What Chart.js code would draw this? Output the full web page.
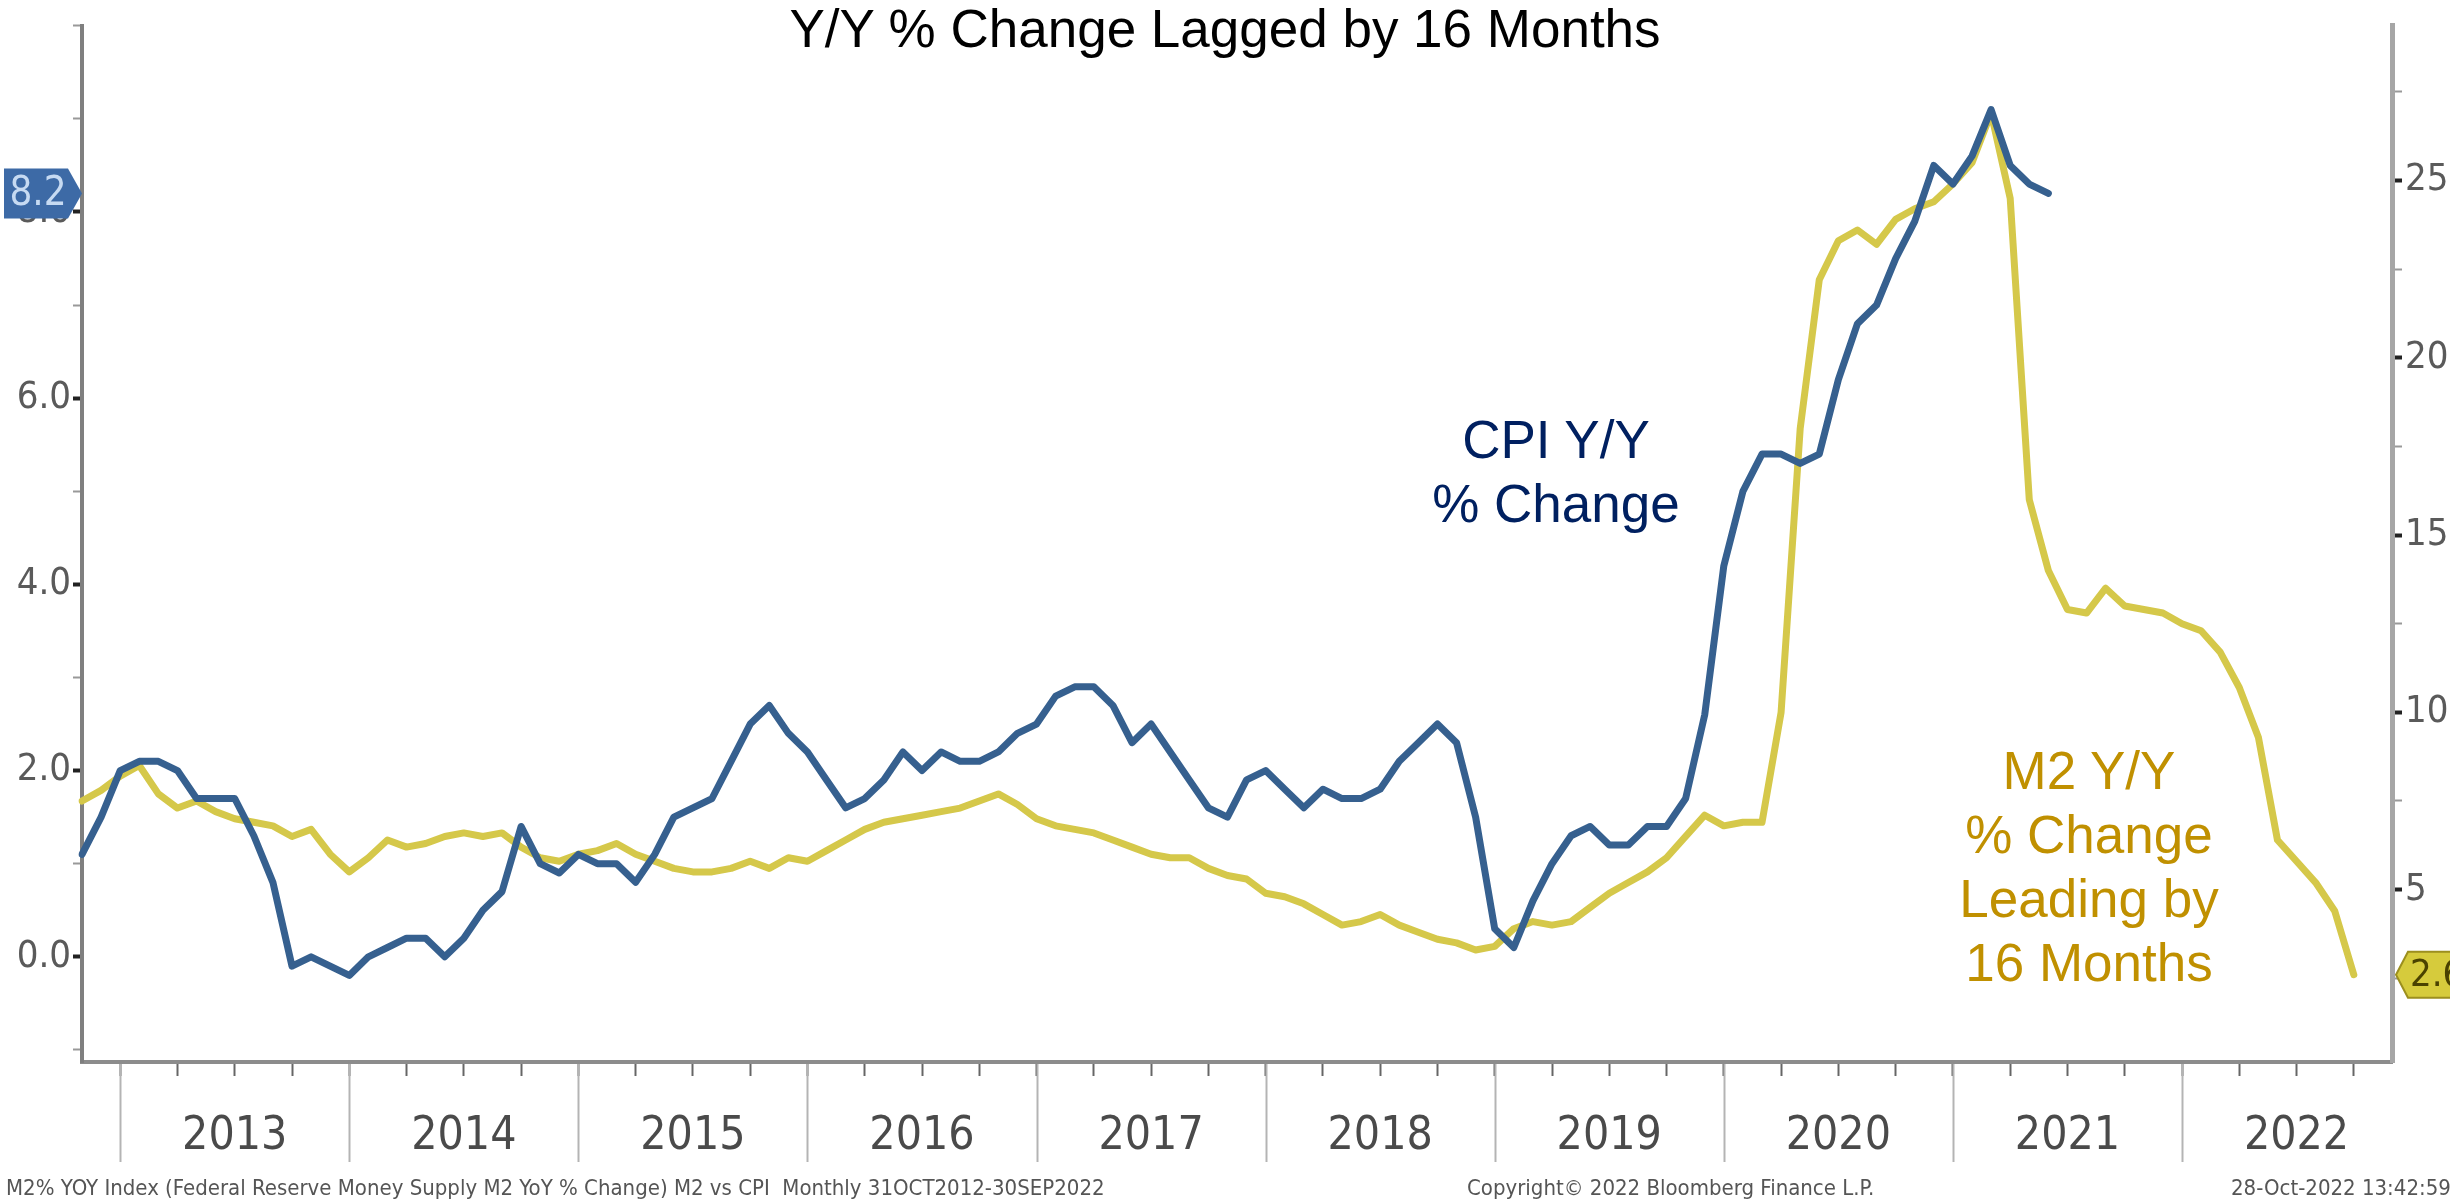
<!DOCTYPE html>
<html>
<head>
<meta charset="utf-8">
<title>M2 vs CPI</title>
<script src="https://cdn.jsdelivr.net/npm/chart.js@4.4.0/dist/chart.umd.min.js"></script>
<style>
  html, body { margin: 0; padding: 0; background: #fff; }
  #wrap { position: relative; width: 2450px; height: 1202px; overflow: hidden; background: #fff; }
  #chart { position: absolute; left: 0; top: 0; }
  .note { position: absolute; font-family: "Liberation Sans", Arial, sans-serif; font-size: 53px; line-height: 64px; text-align: center; white-space: nowrap; }
  .foot { position: absolute; top: 1175px; font-family: "Liberation Sans Narrow", "DejaVu Sans Condensed", sans-serif; font-size: 22px; line-height: 26px; color: #555; white-space: nowrap; }
</style>
</head>
<body>
<div id="wrap">
  <canvas id="chart" width="2450" height="1202"></canvas>
  <div class="note" style="left:0; width:2450px; top:-3px; color:#000;">Y/Y % Change Lagged by 16 Months</div>
  <div class="note" style="left:1356px; width:400px; top:408px; color:#002060;">CPI Y/Y<br>% Change</div>
  <div class="note" style="left:1889px; width:400px; top:739px; color:#c09000;">M2 Y/Y<br>% Change<br>Leading by<br>16 Months</div>
  <div class="foot" style="left:6px;">M2% YOY Index (Federal Reserve Money Supply M2 YoY % Change) M2 vs CPI&nbsp; Monthly 31OCT2012-30SEP2022</div>
  <div class="foot" style="left:1467px;">Copyright© 2022 Bloomberg Finance L.P.</div>
  <div class="foot" style="left:2231px;">28-Oct-2022 13:42:59</div>
</div>
<script>
// -----------------------------
// Data
// -----------------------------
// month-end categories, Oct 2012 .. Nov 2022
const START_YEAR = 2012;
const START_MONTH = 10;
const MONTH_COUNT = 122;
const months = [];
for (let k = 0; k < MONTH_COUNT; k++) {
    const n = START_MONTH - 1 + k;
    months.push((START_YEAR + Math.floor(n / 12)) + '-' + String(n % 12 + 1).padStart(2, '0'));
}

// CPI Y/Y %, shifted back 16 months (left axis)
const cpiLagged = [
    1.1, 1.5, 2.0, 2.1, 2.1, 2.0, 1.7, 1.7, 1.7, 1.3, 0.8,
    -0.1, 0.0, -0.1, -0.2, 0.0, 0.1, 0.2, 0.2, 0.0, 0.2, 0.5, 0.7,
    1.4, 1.0, 0.9, 1.1, 1.0, 1.0, 0.8, 1.1, 1.5, 1.6, 1.7, 2.1,
    2.5, 2.7, 2.4, 2.2, 1.9, 1.6, 1.7, 1.9, 2.2, 2.0, 2.2, 2.1,
    2.1, 2.2, 2.4, 2.5, 2.8, 2.9, 2.9, 2.7, 2.3, 2.5, 2.2, 1.9,
    1.6, 1.5, 1.9, 2.0, 1.8, 1.6, 1.8, 1.7, 1.7, 1.8, 2.1, 2.3,
    2.5, 2.3, 1.5, 0.3, 0.1, 0.6, 1.0, 1.3, 1.4, 1.2, 1.2, 1.4,
    1.4, 1.7, 2.6, 4.2, 5.0, 5.4, 5.4, 5.3, 5.4, 6.2, 6.8, 7.0,
    7.5, 7.9, 8.5, 8.3, 8.6, 9.1, 8.5, 8.3, 8.2
];

// M2 Y/Y % (right axis)
const m2Yoy = [
    7.5, 7.8, 8.2, 8.5, 7.7, 7.3, 7.5, 7.2, 7.0, 6.9, 6.8, 6.5,
    6.7, 6.0, 5.5, 5.9, 6.4, 6.2, 6.3, 6.5, 6.6, 6.5, 6.6, 6.2,
    5.9, 5.8, 6.0, 6.1, 6.3, 6.0, 5.8, 5.6, 5.5, 5.5, 5.6, 5.8,
    5.6, 5.9, 5.8, 6.1, 6.4, 6.7, 6.9, 7.0, 7.1, 7.2, 7.3, 7.5,
    7.7, 7.4, 7.0, 6.8, 6.7, 6.6, 6.4, 6.2, 6.0, 5.9, 5.9, 5.6,
    5.4, 5.3, 4.9, 4.8, 4.6, 4.3, 4.0, 4.1, 4.3, 4.0, 3.8, 3.6,
    3.5, 3.3, 3.4, 3.9, 4.1, 4.0, 4.1, 4.5, 4.9, 5.2, 5.5, 5.9,
    6.5, 7.1, 6.8, 6.9, 6.9, 10.0, 18.0, 22.2, 23.3, 23.6, 23.2, 23.9,
    24.2, 24.4, 24.9, 25.5, 26.9, 24.5, 16.0, 14.0, 12.9, 12.8, 13.5, 13.0,
    12.9, 12.8, 12.5, 12.3, 11.7, 10.7, 9.3, 6.4, 5.8, 5.2, 4.4, 2.6
];

// axis ticks
const leftMajor = [0, 2, 4, 6, 8];
const leftMinor = [-1, 1, 3, 5, 7, 9, 10];
const rightMajor = [5, 10, 15, 20, 25];
const rightMinor = [2.5, 7.5, 12.5, 17.5, 22.5, 27.5];

const NARROW = '"Liberation Sans Narrow", "DejaVu Sans Condensed", sans-serif';
const CPI_COLOR = '#36608f';
const M2_COLOR = '#d5c84a';

// -----------------------------
// Extra drawing: year dividers + last value tags
// -----------------------------
const overlay = {
    id: 'overlay',
    afterDraw(chart) {
        const { ctx, chartArea, scales } = chart;
        ctx.save();

        ctx.strokeStyle = '#b4b4b4';
        ctx.lineWidth = 2;
        months.forEach((m, i) => {
            if (m.endsWith('-12')) {
                const px = Math.round(scales.x.getPixelForValue(i)) + 0.5;
                ctx.beginPath();
                ctx.moveTo(px, chartArea.bottom + 2);
                ctx.lineTo(px, chartArea.bottom + 100);
                ctx.stroke();
            }
        });

        // left tag (CPI)
        const lv = cpiLagged[cpiLagged.length - 1];
        const ly = scales.y.getPixelForValue(lv);
        ctx.fillStyle = '#3d6aa6';
        ctx.beginPath();
        ctx.moveTo(4, ly - 25);
        ctx.lineTo(68, ly - 25);
        ctx.lineTo(chartArea.left, ly);
        ctx.lineTo(68, ly + 25);
        ctx.lineTo(4, ly + 25);
        ctx.closePath();
        ctx.fill();
        ctx.fillStyle = '#c6daf2';
        ctx.font = '40px ' + NARROW;
        ctx.textAlign = 'center';
        ctx.textBaseline = 'middle';
        ctx.fillText(lv.toFixed(1), 38, ly + 1);

        // right tag (M2)
        const rv = m2Yoy[m2Yoy.length - 1];
        const ry = scales.y1.getPixelForValue(rv);
        const rx = chartArea.right + 4;
        ctx.fillStyle = '#d6cb3c';
        ctx.strokeStyle = '#9c8f1e';
        ctx.lineWidth = 2;
        ctx.beginPath();
        ctx.moveTo(rx, ry);
        ctx.lineTo(rx + 12, ry - 23);
        ctx.lineTo(2460, ry - 23);
        ctx.lineTo(2460, ry + 23);
        ctx.lineTo(rx + 12, ry + 23);
        ctx.closePath();
        ctx.fill();
        ctx.stroke();
        ctx.fillStyle = '#4a4200';
        ctx.font = '38px ' + NARROW;
        ctx.textAlign = 'left';
        ctx.fillText(rv.toFixed(1), rx + 14, ry + 1);

        ctx.restore();
    }
};

// -----------------------------
// Chart
// -----------------------------
const ctx = document.getElementById('chart').getContext('2d');
const chart = new Chart(ctx, {
    type: 'line',
    data: {
        labels: months,
        datasets: [
            {
                label: 'CPI Y/Y % Change',
                data: cpiLagged,
                yAxisID: 'y',
                borderColor: CPI_COLOR,
                borderWidth: 7,
                pointRadius: 0,
                tension: 0,
                borderJoinStyle: 'round',
                borderCapStyle: 'round',
                fill: false
            },
            {
                label: 'M2 Y/Y % Change',
                data: m2Yoy,
                yAxisID: 'y1',
                borderColor: M2_COLOR,
                borderWidth: 7,
                pointRadius: 0,
                tension: 0,
                borderJoinStyle: 'round',
                borderCapStyle: 'round',
                fill: false
            }
        ]
    },
    options: {
        responsive: false,
        animation: false,
        devicePixelRatio: 1,
        layout: { padding: { top: 10, left: 0, right: 0, bottom: 0 } },
        plugins: {
            legend: { display: false },
            tooltip: { enabled: false },
            title: { display: false }
        },
        scales: {
            x: {
                type: 'category',
                offset: false,
                grid: {
                    drawOnChartArea: false,
                    drawTicks: true,
                    tickLength: 14,
                    tickWidth: 2,
                    tickColor: c => (c.index % 3 === 2 ? '#666' : 'rgba(0,0,0,0)')
                },
                border: { display: true, color: '#8c8c8c', width: 4 },
                ticks: {
                    autoSkip: false,
                    maxRotation: 0,
                    minRotation: 0,
                    padding: 33,
                    color: '#4a4a4a',
                    font: { family: NARROW, size: 46 },
                    callback: (v, i) => (months[i].endsWith('-06') ? months[i].slice(0, 4) : '')
                },
                afterFit: s => { s.height = 140; }
            },
            y: {
                position: 'left',
                min: -1.13,
                max: 10,
                afterBuildTicks: s => {
                    s.ticks = leftMajor.concat(leftMinor).sort((a, b) => a - b).map(v => ({ value: v }));
                },
                grid: {
                    drawOnChartArea: false,
                    tickLength: 9,
                    tickWidth: c => (leftMajor.includes(c.tick.value) ? 4 : 2),
                    tickColor: c => (leftMajor.includes(c.tick.value) ? '#222' : '#999')
                },
                border: { display: true, color: '#7f7f7f', width: 4 },
                ticks: {
                    padding: 2,
                    color: '#5a5a5a',
                    font: { family: NARROW, size: 38 },
                    callback: v => (leftMajor.includes(v) ? v.toFixed(1) : '')
                },
                afterFit: s => { s.width = 82; }
            },
            y1: {
                position: 'right',
                min: 0.14,
                max: 29.36,
                afterBuildTicks: s => {
                    s.ticks = rightMajor.concat(rightMinor).sort((a, b) => a - b).map(v => ({ value: v }));
                },
                grid: {
                    drawOnChartArea: false,
                    tickLength: 10,
                    tickWidth: c => (rightMajor.includes(c.tick.value) ? 4 : 2),
                    tickColor: c => (rightMajor.includes(c.tick.value) ? '#222' : '#999')
                },
                border: { display: true, color: '#a6a6a6', width: 5 },
                ticks: {
                    padding: 3,
                    color: '#5a5a5a',
                    font: { family: NARROW, size: 38 },
                    callback: v => (rightMajor.includes(v) ? String(v) : '')
                },
                afterFit: s => { s.width = 58; }
            }
        }
    },
    plugins: [overlay]
});
</script>
</body>
</html>
